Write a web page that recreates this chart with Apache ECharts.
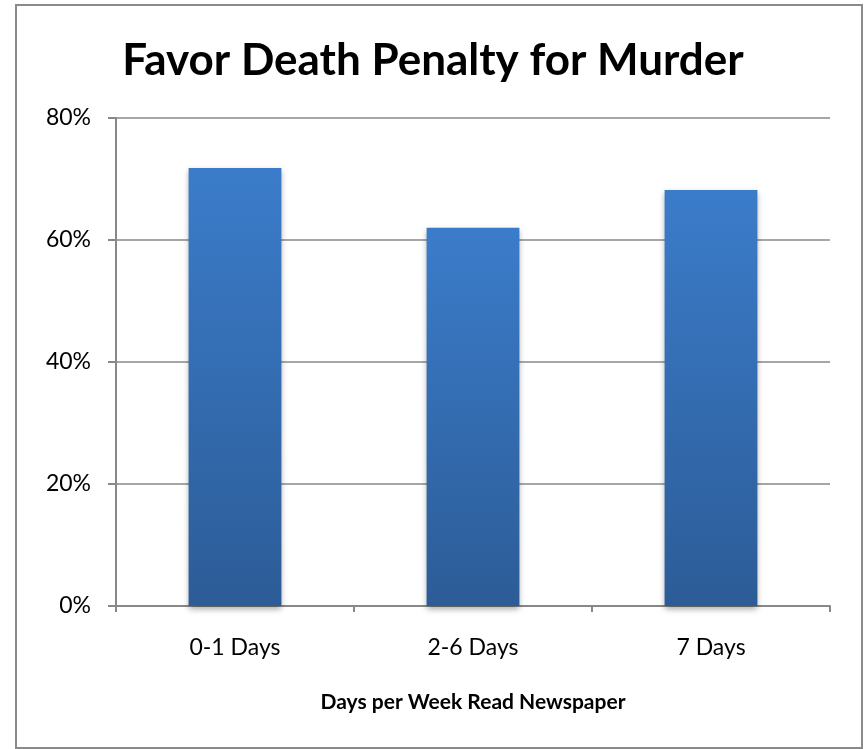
<!DOCTYPE html>
<html>
<head>
<meta charset="utf-8">
<script src="https://cdn.jsdelivr.net/npm/echarts@6/dist/echarts.min.js"></script>
<style>
  html, body { margin: 0; padding: 0; background: #fff; }
  #wrap { position: relative; width: 866px; height: 749px; }
  #frame { position: absolute; left: 15px; top: 4px; width: 844px; height: 741px; border: 2px solid #8a8a8a; }
  #chart { position: absolute; left: 0; top: 0; width: 866px; height: 749px; }
</style>
</head>
<body>
<div id="wrap">
  <div id="frame"></div>
  <div id="chart"></div>
</div>
<script>
// data
var categories = ['0-1 Days', '2-6 Days', '7 Days'];
var favorPct = [71.8, 62.0, 68.2];
var yTicks = [0, 20, 40, 60, 80];

var chart = echarts.init(document.getElementById('chart'));

var option = {
  animation: false,
  title: {
    text: 'Favor Death Penalty for Murder',
    left: 'center',
    top: 34,
    textStyle: {
      fontFamily: 'Lato',
      fontWeight: 'bold',
      fontSize: 44,
      color: '#000'
    }
  },
  grid: { left: 116, right: 36, top: 118, bottom: 143 },
  xAxis: {
    type: 'category',
    data: categories,
    name: 'Days per Week Read Newspaper',
    nameLocation: 'middle',
    nameGap: 86,
    nameTextStyle: { fontFamily: 'Lato', fontWeight: 'bold', fontSize: 21, color: '#000' },
    axisLine: { lineStyle: { color: '#888', width: 2 } },
    axisTick: { show: true, length: 6, lineStyle: { color: '#888', width: 2 } },
    axisLabel: { fontFamily: 'Lato', fontSize: 23, color: '#000', margin: 30 }
  },
  yAxis: {
    type: 'value',
    min: 0,
    max: yTicks[yTicks.length - 1],
    interval: 20,
    axisLine: { show: true, lineStyle: { color: '#888', width: 2 } },
    axisTick: { show: true, length: 8, lineStyle: { color: '#888', width: 2 } },
    splitLine: { lineStyle: { color: '#888', width: 1.5 } },
    axisLabel: {
      fontFamily: 'Lato', fontSize: 23, color: '#000', margin: 25,
      formatter: function (v) { return v + '%'; }
    }
  },
  series: [{
    type: 'bar',
    data: favorPct,
    barWidth: '39%',
    itemStyle: {
      color: new echarts.graphic.LinearGradient(0, 0, 0, 1, [
        { offset: 0, color: '#3b7cca' },
        { offset: 1, color: '#2c5c97' }
      ]),
      shadowColor: 'rgba(0,0,0,0.35)',
      shadowBlur: 6,
      shadowOffsetY: 3
    }
  }]
};

chart.setOption(option);
</script>
</body>
</html>
